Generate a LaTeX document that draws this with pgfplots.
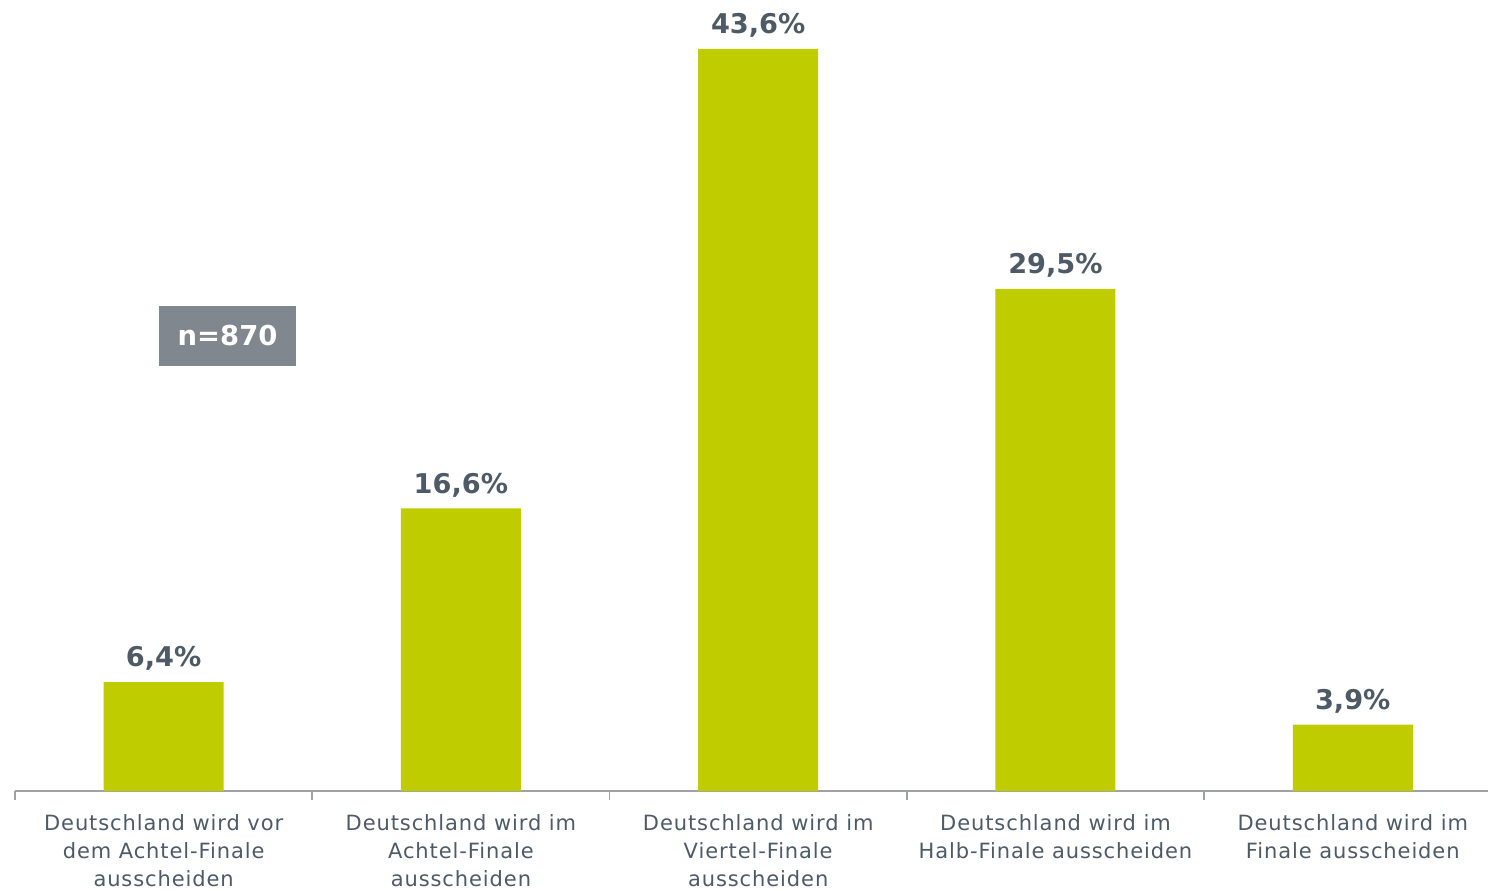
\documentclass[border=0pt]{standalone}
\usepackage{pgfplots}
\pgfplotsset{compat=1.18}
\usepackage{fontspec}
\setmainfont{DejaVu Sans}
\newfontfamily\labelfont[LetterSpace=4.3]{DejaVu Sans}
\definecolor{bargreen}{HTML}{BFCC00}
\definecolor{txtgray}{HTML}{4E5A66}
\definecolor{boxgray}{HTML}{80878F}
\definecolor{axgray}{HTML}{9FA3A8}

\begin{document}
\begin{tikzpicture}
\begin{axis}[
  scale only axis, width=736.5pt, height=395.5pt,
  xmin=-0.5, xmax=4.455, ymin=0, ymax=46.47,
  axis x line*=bottom, axis y line=none,
  axis line style={axgray, line width=0.8pt, -},
  ybar, bar width=60pt,
  xtick={0,...,4},
  xticklabels={{Deutschland wird vor\\dem Achtel-Finale\\ausscheiden},
               {Deutschland wird im\\Achtel-Finale\\ausscheiden},
               {Deutschland wird im\\Viertel-Finale\\ausscheiden},
               {Deutschland wird im\\Halb-Finale ausscheiden},
               {Deutschland wird im\\Finale ausscheiden}},
  major tick length=0pt,
  minor xtick={-0.5,0.5,1.5,2.5,3.5},
  minor tick length=4.5pt, tick align=outside,
  minor x tick style={axgray, line width=0.8pt},
  xticklabel style={font=\labelfont\fontsize{10.5}{14}\selectfont, text=txtgray, align=center, yshift=-8pt},
  nodes near coords={\pgfmathprintnumber[fixed,fixed zerofill,precision=1,use comma,assume math mode=true]{\pgfplotspointmeta}\%},
  every node near coord/.append style={font=\bfseries\fontsize{13.6}{16}\selectfont, text=txtgray, yshift=2.2pt},
]
\addplot[fill=bargreen, draw=none] coordinates {(0,6.4) (1,16.6) (2,43.6) (3,29.5) (4,3.9)};
\node[fill=boxgray, text=white, font=\bfseries\fontsize{13.7}{16}\selectfont,
      minimum width=68.5pt, minimum height=30pt, inner sep=0pt]
      at (axis cs:0.215,26.73) {n=870};
\end{axis}
\pgfresetboundingbox
\path[use as bounding box] (-7.5pt,-49.5pt) rectangle (736.5pt,395.5pt);
\end{tikzpicture}
\end{document}
